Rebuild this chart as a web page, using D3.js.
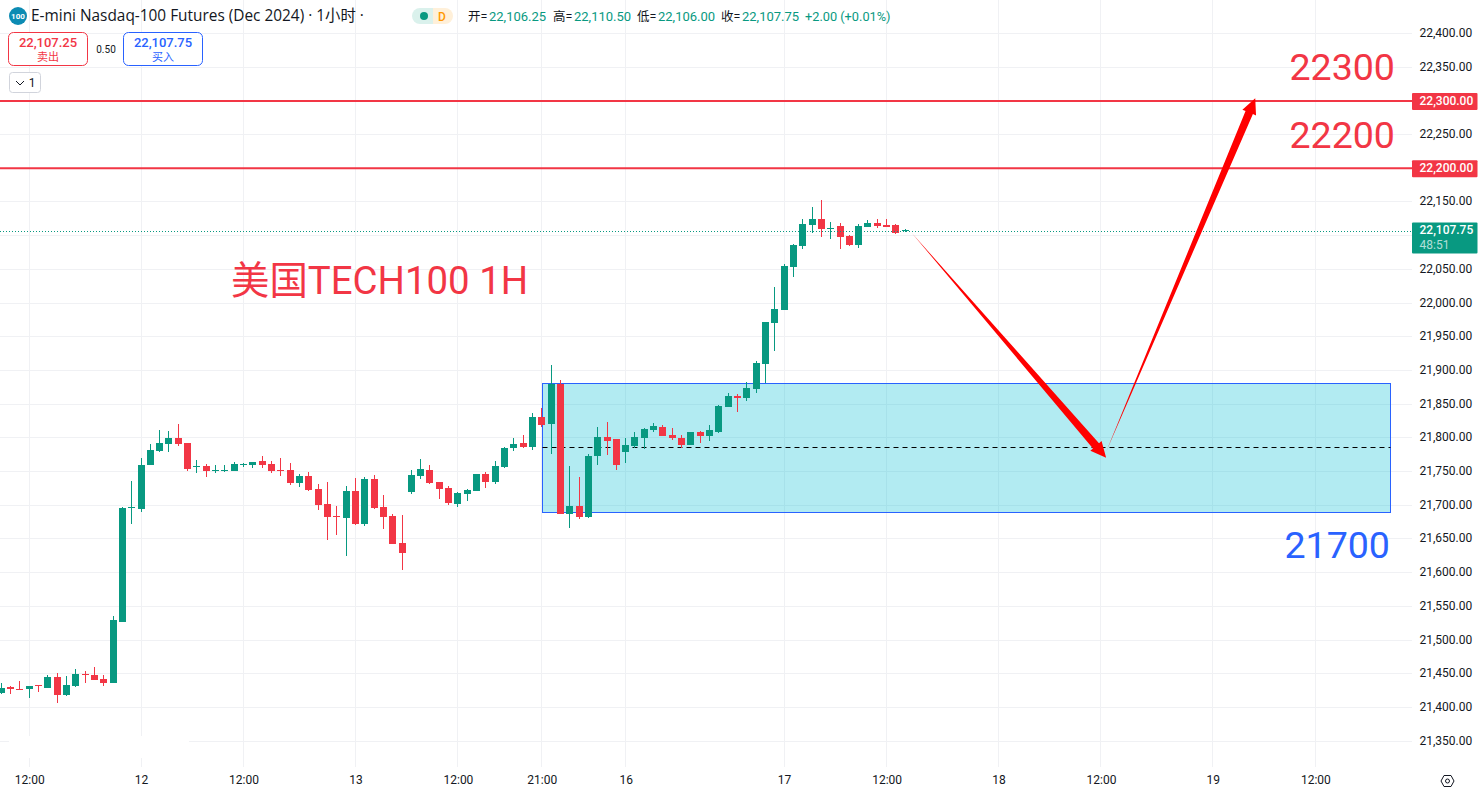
<!DOCTYPE html>
<html>
<head>
<meta charset="utf-8">
<script src="https://cdn.jsdelivr.net/npm/d3@7.9.0/dist/d3.min.js"></script>
<style>
  html, body { margin: 0; padding: 0; background: #fff; overflow: hidden; }
  svg { display: block; }
  text { font-family: Roboto, "Noto Sans CJK SC", sans-serif; }
  .domain { display: none; }
</style>
</head>
<body>
<svg id="chart" width="1479" height="793"></svg>
<script>
// hourly bars; the first bar sits just left of the first 12:00 label
const opens = [21421.6, 21430.6, 21427.6, 21426.6, 21432.5, 21429, 21445.4, 21418.7, 21432, 21449.8,
  21448.4, 21442.4, 21436.5, 21527, 21696.6, 21694.7, 21759.9, 21780.7, 21791.1, 21800,
  21792.6, 21757.5, 21758.5, 21751.5, 21751.5, 21751, 21760.4, 21760, 21765.9, 21761.4,
  21752.5, 21752.5, 21733.2, 21743.6, 21724.3, 21702, 21684.2, 21681.3, 21721.3, 21672.4,
  21739.1, 21697.6, 21684.2, 21644.2, 21719.8, 21743.6, 21752.5, 21734.7, 21725.8, 21702,
  21716.9, 21721.3, 21746.5, 21734.7, 21756.9, 21785.1, 21792.5, 21786.6, 21831.1, 21820.8,
  21880.2, 21687.3, 21699.1, 21682.8, 21773.3, 21801.5, 21798.5, 21779.3, 21788.2, 21800,
  21811.9, 21816.3, 21804.5, 21800, 21789.6, 21808.9, 21803, 21808.9, 21846, 21862.3,
  21859.4, 21872.7, 21909.8, 21970.7, 21990, 22053.7, 22084.9, 22116.1, 22125, 22110.6,
  22114.6, 22099.7, 22086.4, 22113.1, 22119, 22116.1, 22116.1, 22106.25];
const highs = [21436.5, 21432, 21439.5, 21432, 21433.5, 21448.4, 21451.3, 21447, 21457.3, 21454.3,
  21460.2, 21448.4, 21535.9, 21697.6, 21736.2, 21770.3, 21791.1, 21811.9, 21810.4, 21820.8,
  21792.6, 21767.4, 21761.4, 21760, 21760, 21764.4, 21762.9, 21764.4, 21773.3, 21765.9,
  21770.3, 21762.9, 21746.5, 21749.5, 21731.7, 21734.7, 21699, 21728.7, 21740.6, 21742.1,
  21745, 21715.4, 21687.2, 21685.7, 21752.5, 21768.8, 21759.9, 21734.7, 21728.7, 21719.8,
  21724.3, 21746.5, 21749.5, 21765.8, 21786.6, 21800, 21804.4, 21837, 21844.5, 21908.3,
  21886.1, 21758.5, 21742.2, 21776.3, 21816.3, 21823.8, 21798.5, 21800, 21808.9, 21814.9,
  21822.3, 21819.3, 21814.9, 21804.5, 21808.9, 21810.4, 21819.3, 21849, 21866.8, 21865.3,
  21883.1, 21914.3, 21972.1, 22024, 22058.2, 22087.9, 22125, 22142.8, 22153.2, 22120.5,
  22119, 22101.2, 22117.6, 22123.5, 22125, 22125, 22117.6, 22110.5];
const lows = [21420.2, 21420, 21426, 21414, 21423, 21429, 21406.8, 21417.2, 21430.5, 21436.5,
  21440.9, 21432, 21436.5, 21527, 21672.4, 21690.2, 21759.9, 21779.2, 21779.2, 21788.2,
  21751, 21748.1, 21742.1, 21748.1, 21749.6, 21751, 21757, 21755.5, 21755.5, 21748.1,
  21743.6, 21730.2, 21727.3, 21721.3, 21693.1, 21648.6, 21656, 21624.9, 21670.9, 21669.4,
  21694.6, 21664.9, 21642.7, 21604.1, 21716.9, 21739.1, 21731.7, 21709.4, 21700.5, 21697.6,
  21706.5, 21721.3, 21725.8, 21731.7, 21755.4, 21780.7, 21785.1, 21782.2, 21816.3, 21776.3,
  21687.3, 21666.5, 21679.8, 21681.3, 21760, 21774.8, 21752.5, 21762.9, 21785.2, 21783.7,
  21808.9, 21803, 21797, 21785.2, 21789.6, 21792.6, 21795.6, 21807.4, 21846, 21838.6,
  21854.9, 21866.8, 21881, 21929.1, 21990, 22038.9, 22080.5, 22104.2, 22098.3, 22095.3,
  22080.5, 22084.9, 22081.9, 22113.1, 22111.6, 22113.1, 22102.7, 22106];
const closes = [21428.6, 21426.6, 21426.6, 21432, 21431.5, 21445.4, 21418.7, 21433.5, 21449.8, 21448.8,
  21440.9, 21436.5, 21530, 21696.1, 21697.6, 21759.9, 21782.2, 21792.6, 21800, 21791.1,
  21754, 21758.5, 21751, 21752.5, 21752.5, 21761.4, 21761.4, 21764.4, 21760, 21751,
  21751.5, 21733.2, 21743.6, 21722.8, 21700.5, 21682.7, 21683.2, 21721.3, 21672.4, 21739.1,
  21696.1, 21682.7, 21642.7, 21629.3, 21745.1, 21754, 21733.2, 21724.3, 21703.5, 21718.4,
  21722.8, 21746.5, 21734.7, 21758.4, 21785.1, 21791.1, 21786.6, 21831.1, 21819.3, 21880.2,
  21687.3, 21699.1, 21682.8, 21773.3, 21801.5, 21795.6, 21760, 21789.6, 21801.5, 21813.4,
  21817.8, 21803, 21800, 21789.6, 21808.9, 21803, 21811.9, 21847.5, 21862.3, 21859.4,
  21874.2, 21911.3, 21972.1, 21991.4, 22055.2, 22086.4, 22117.6, 22125, 22110.1, 22111.6,
  22098.3, 22086.4, 22114.6, 22119, 22114.6, 22113.1, 22104.2, 22107.75];

const priceTicks = d3.range(21350, 22401, 50);
const timeBars = [3, 15, 26, 38, 49, 58, 67, 84, 95, 107, 118, 130, 141];
const timeLabels = ['12:00', '12', '12:00', '13', '12:00', '21:00', '16', '17', '12:00', '18', '12:00', '19', '12:00'];

const targetLevels = [22300, 22200];
const lastPrice = 22107.75;
const zoneTop = 21881, zoneBottom = 21689, zoneMid = 21785.5;
const zoneStartBar = 58.1, zoneEndBar = 149.1;
// [bar, price] of tail and tip
const arrowDown = [[97.7, 22104], [118.55, 21770.6]];
const arrowUp = [[118.55, 21779.5], [134.55, 22303.9]];

const GREEN = '#089981', RED = '#f23645', BLUE = '#2962ff', GRID = '#f0f1f4', INK = '#131722';
const paneW = 1412, paneH = 767;

const svg = d3.select('#chart');
const x = d3.scaleLinear().domain([3, 141]).range([29.2, 1315.36]);
const y = d3.scaleLinear().domain([21400, 22300]).range([707.4, 100.9]);
const col = (i) => Math.floor(x(i)) + 0.5;
const row = (p) => Math.floor(y(p)) + 0.5;

function label(g, px, py, str, size, fill, anchor, weight) {
  return g.append('text').attr('x', px).attr('y', py).attr('font-size', size)
    .attr('fill', fill).attr('text-anchor', anchor || 'start')
    .attr('font-weight', weight || 400).text(str);
}

// grid
const grid = svg.append('g');
grid.selectAll('line.h').data(priceTicks).join('line').attr('class', 'h')
  .attr('x1', 0).attr('x2', paneW).attr('y1', row).attr('y2', row)
  .attr('stroke', GRID);
grid.selectAll('line.v').data(timeBars).join('line').attr('class', 'v')
  .attr('x1', col).attr('x2', col).attr('y1', 0).attr('y2', paneH)
  .attr('stroke', GRID);
// the logo patch at the bottom left of the pane is blank in the reference
svg.append('rect').attr('x', 9).attr('y', 736).attr('width', 180).attr('height', 22).attr('fill', '#fff');

// zone
const zoneX0 = col(zoneStartBar), zoneX1 = Math.floor(x(zoneEndBar)) + 0.5;
svg.append('rect')
  .attr('x', zoneX0).attr('y', row(zoneTop))
  .attr('width', zoneX1 - zoneX0).attr('height', row(zoneBottom) - row(zoneTop))
  .attr('fill', 'rgba(0,188,212,0.3)').attr('stroke', BLUE);
svg.append('line')
  .attr('x1', zoneX0).attr('x2', zoneX1).attr('y1', row(zoneMid)).attr('y2', row(zoneMid))
  .attr('stroke', '#000').attr('stroke-dasharray', '5 4');

// candles
const bars = opens.map((o, i) => ({ i, o, h: highs[i], l: lows[i], c: closes[i] }));
const candle = svg.append('g').selectAll('g').data(bars).join('g')
  .attr('fill', (d) => (d.c >= d.o ? GREEN : RED));
candle.append('rect')
  .attr('x', (d) => col(d.i) - 0.5).attr('width', 1)
  .attr('y', (d) => Math.round(y(d.h)))
  .attr('height', (d) => Math.max(1, Math.round(y(d.l)) - Math.round(y(d.h))));
candle.append('rect')
  .attr('x', (d) => col(d.i) - 3.5).attr('width', 7)
  .attr('y', (d) => Math.round(y(Math.max(d.o, d.c))))
  .attr('height', (d) => Math.max(1, Math.round(y(Math.min(d.o, d.c))) - Math.round(y(Math.max(d.o, d.c)))));

// levels and last price
svg.selectAll('line.level').data(targetLevels).join('line').attr('class', 'level')
  .attr('x1', 0).attr('x2', paneW).attr('y1', (d) => y(d)).attr('y2', (d) => y(d))
  .attr('stroke', RED).attr('stroke-width', 2);
svg.append('line')
  .attr('x1', 0).attr('x2', paneW).attr('y1', row(lastPrice) + 1).attr('y2', row(lastPrice) + 1)
  .attr('stroke', GREEN).attr('stroke-dasharray', '1 2');

// tapered arrows, the shaft widens from nothing at the tail
function arrowPath([tail, tip]) {
  const tx = x(tail[0]), ty = y(tail[1]), px = x(tip[0]), py = y(tip[1]);
  const len = Math.hypot(px - tx, py - ty);
  const ux = (px - tx) / len, uy = (py - ty) / len;
  const nx = -uy, ny = ux;
  const bx = px - ux * 15.5, by = py - uy * 15.5;
  const pts = [[tx, ty], [bx + nx * 4, by + ny * 4], [bx + nx * 7.4, by + ny * 7.4], [px, py],
    [bx - nx * 7.4, by - ny * 7.4], [bx - nx * 4, by - ny * 4]];
  return d3.line()(pts) + 'Z';
}
svg.selectAll('path.arrow').data([arrowDown, arrowUp]).join('path').attr('class', 'arrow')
  .attr('d', arrowPath).attr('fill', '#ff0000');

// big annotations
const notes = svg.append('g');
label(notes, 231, 294, '美国TECH100 1H', 38.4, RED);
label(notes, 1395, 79.5, '22300', 37.6, RED, 'end');
label(notes, 1395, 147.5, '22200', 37.6, RED, 'end');
label(notes, 1390, 558, '21700', 37.6, BLUE, 'end');

// price axis, the ticks under the price tags are left out
const tagged = [...targetLevels, 22100];
const yAxis = svg.append('g').attr('transform', `translate(1412,0)`)
  .call(d3.axisRight(y).tickValues(priceTicks.filter((p) => !tagged.includes(p)))
    .tickSize(0).tickPadding(7.5).tickFormat(d3.format(',.2f')));
yAxis.selectAll('text').attr('font-size', 12).attr('dy', '0.25em').attr('fill', INK).style('font-family', 'Roboto');

function priceTag(p, h, fill) {
  svg.append('rect').attr('x', 1412).attr('y', y(p) - 8).attr('width', 65.5).attr('height', h)
    .attr('rx', 1).attr('fill', fill);
  label(svg, 1419.5, y(p) + 4, d3.format(',.2f')(p), 12, '#fff', 'start', 500);
}
targetLevels.forEach((p) => priceTag(p, 17, RED));
priceTag(lastPrice, 31, GREEN);
label(svg, 1419.5, y(lastPrice) + 19, '48:51', 12, 'rgba(255,255,255,0.7)');

// time axis
const xAxis = svg.append('g').attr('transform', `translate(0,${paneH})`)
  .call(d3.axisBottom(x).tickValues(timeBars).tickSize(0).tickPadding(8)
    .tickFormat((d) => timeLabels[timeBars.indexOf(d)]));
xAxis.selectAll('text').attr('font-size', 12).attr('fill', INK).style('font-family', 'Roboto');

// gear
const gear = svg.append('g').attr('transform', 'translate(1447.5,781)').attr('fill', 'none').attr('stroke', INK);
gear.append('path').attr('d', 'M-6.5,0 L-3.5,-5.5 L3.5,-5.5 L6.5,0 L3.5,5.5 L-3.5,5.5 Z');
gear.append('circle').attr('r', 2);

// header
const head = svg.append('g');
head.append('circle').attr('cx', 18).attr('cy', 16).attr('r', 9).attr('fill', '#0c8bb3');
label(head, 18, 19, '100', 8, '#fff', 'middle', 700);
label(head, 31, 21, 'E-mini Nasdaq-100 Futures (Dec 2024) · 1小时 ·', 15.4, INK)
  .style('font-family', '"Open Sans", "Noto Sans CJK SC", sans-serif');

head.append('path').attr('d', 'M433,8 H420 A8,8 0 0 0 420,24 H433 Z').attr('fill', '#daf1ec');
head.append('path').attr('d', 'M433,8 H445 A8,8 0 0 1 445,24 H433 Z').attr('fill', '#fff0d9');
head.append('circle').attr('cx', 424).attr('cy', 16).attr('r', 4).attr('fill', GREEN);
label(head, 442, 21, 'D', 12, '#ff9800', 'middle', 500);

const ohlc = [['开=', '22,106.25', 468], ['高=', '22,110.50', 553], ['低=', '22,106.00', 637], ['收=', '22,107.75', 721]];
ohlc.forEach(([name, value, px]) => {
  label(head, px, 21, name, 12.5, INK);
  label(head, px + 21, 21, value, 13, GREEN);
});
label(head, 805, 21, '+2.00 (+0.01%)', 12.75, GREEN);

function quoteBox(px, price, word, color) {
  head.append('rect').attr('x', px + 0.5).attr('y', 32.5).attr('width', 79).attr('height', 33)
    .attr('rx', 5).attr('fill', '#fff').attr('stroke', color);
  label(head, px + 40, 47, price, 13, color, 'middle', 500);
  label(head, px + 40, 61, word, 11, color, 'middle');
}
quoteBox(8, '22,107.25', '卖出', RED);
quoteBox(123, '22,107.75', '买入', BLUE);
label(head, 106, 53, '0.50', 10, INK, 'middle');

head.append('rect').attr('x', 9.5).attr('y', 72.5).attr('width', 31).attr('height', 20)
  .attr('rx', 3).attr('fill', '#fff').attr('stroke', '#d1d4dc');
head.append('path').attr('d', 'M16,81 L20,85 L24,81').attr('fill', 'none').attr('stroke', INK);
label(head, 32, 87, '1', 12, INK, 'middle');
</script>
</body>
</html>
